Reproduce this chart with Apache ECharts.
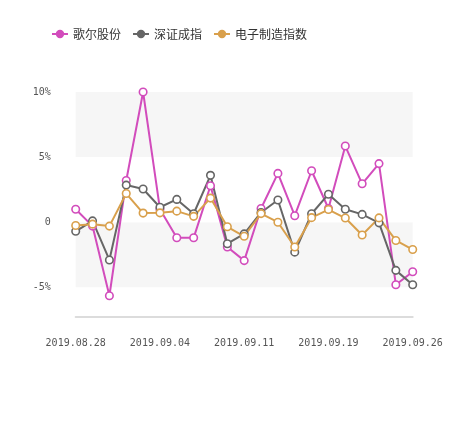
<!DOCTYPE html>
<html>
<head>
<meta charset="utf-8">
<script src="https://cdn.jsdelivr.net/npm/echarts@6/dist/echarts.min.js"></script>
<style>
html,body{margin:0;padding:0;background:#fff;}
#c{width:462px;height:438px;}
</style>
</head>
<body>
<div id="c"></div>
<script>
var dates = ['2019.08.28','2019.08.29','2019.08.30','2019.09.02','2019.09.03','2019.09.04','2019.09.05','2019.09.06','2019.09.09','2019.09.10','2019.09.11','2019.09.12','2019.09.16','2019.09.17','2019.09.18','2019.09.19','2019.09.20','2019.09.23','2019.09.24','2019.09.25','2019.09.26'];
var seriesNames = ['歌尔股份','深证成指','电子制造指数'];
var gaer = [1.0, -0.3, -5.65, 3.2, 10.0, 1.0, -1.2, -1.2, 2.8, -1.9, -2.95, 1.05, 3.75, 0.5, 3.95, 1.05, 5.85, 2.95, 4.5, -4.8, -3.8];
var szcz = [-0.7, 0.1, -2.9, 2.85, 2.55, 1.15, 1.75, 0.65, 3.6, -1.65, -0.9, 0.75, 1.7, -2.3, 0.65, 2.15, 1.0, 0.6, -0.05, -3.7, -4.8];
var dzzz = [-0.25, -0.15, -0.3, 2.2, 0.7, 0.72, 0.85, 0.45, 1.85, -0.35, -1.08, 0.66, 0.0, -1.9, 0.35, 0.97, 0.32, -0.98, 0.33, -1.4, -2.1];
var yTicks = [-5, 0, 5, 10];

var colors = ['#d24cbc', '#666666', '#d9a04c'];
var values = [gaer, szcz, dzzz];

var chart = echarts.init(document.getElementById('c'));
var series = seriesNames.map(function (n, i) {
  return {
    name: n,
    type: 'line',
    data: values[i],
    clip: false,
    symbol: 'circle',
    symbolSize: 7.5,
    lineStyle: { color: colors[i], width: 2 },
    itemStyle: { color: '#fff', borderColor: colors[i], borderWidth: 1.6 },
    emphasis: { disabled: true }
  };
});
chart.setOption({
  animation: false,
  legend: {
    left: 46,
    top: 23,
    itemWidth: 16,
    itemHeight: 8,
    itemGap: 11,
    textStyle: { fontSize: 12, color: '#333', fontFamily: 'Noto Sans CJK SC' },
    data: seriesNames.map(function (n, i) {
      return { name: n, itemStyle: { color: colors[i], borderColor: colors[i] } };
    })
  },
  grid: { left: 75.7, right: 49.3, top: 92, bottom: 150.7, containLabel: false },
  xAxis: {
    type: 'category',
    data: dates,
    boundaryGap: false,
    offset: 29,
    axisLine: { onZero: false, lineStyle: { color: '#dcdcdc', width: 2 } },
    axisTick: { show: false },
    axisLabel: { interval: 4, margin: 22, color: '#555', fontSize: 10, fontFamily: 'DejaVu Sans Mono' },
    splitLine: { show: false }
  },
  yAxis: {
    type: 'value',
    min: yTicks[0],
    max: yTicks[yTicks.length - 1],
    interval: 5,
    axisLine: { show: false },
    axisTick: { show: false },
    splitLine: { show: false },
    splitArea: { show: true, areaStyle: { color: ['#f6f6f6', '#ffffff'] } },
    axisLabel: {
      margin: 25, color: '#555', fontSize: 10, fontFamily: 'DejaVu Sans Mono',
      formatter: function (v) { return v === 0 ? '0' : v + '%'; }
    }
  },
  series: series
});
</script>
</body>
</html>
